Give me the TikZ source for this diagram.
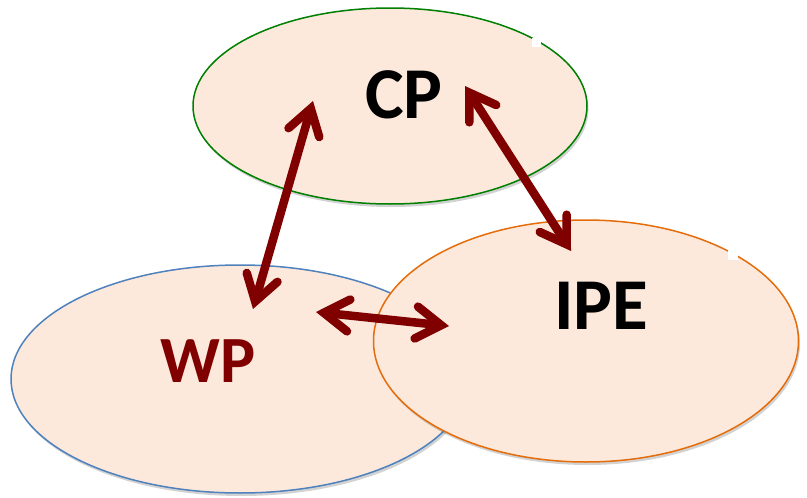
\documentclass[tikz,border=0pt]{standalone}
\usepackage{fontspec}
\newfontfamily\lblfont{Carlito}
\usetikzlibrary{shapes.geometric,arrows.meta,shadows}
\definecolor{peach}{RGB}{252,233,220}
\definecolor{cpline}{RGB}{0,128,0}
\definecolor{wpline}{RGB}{79,129,189}
\definecolor{ipeline}{RGB}{228,108,10}
\definecolor{maroon}{RGB}{128,0,0}
\tikzset{
  blob/.style={ellipse, fill=peach, line width=1.5pt, inner sep=0pt,
    drop shadow={shadow xshift=1.5pt, shadow yshift=-3pt, opacity=0.25, fill=black!70}},
  tag/.style={font=\lblfont\bfseries\fontsize{73}{73}\selectfont, inner sep=0pt},
  link/.style={draw=maroon, line width=8.5pt, line cap=round,
    {Straight Barb[length=25pt, width=32pt, line cap=round]}-{Straight Barb[length=25pt, width=32pt, line cap=round]},
    preaction={draw=black, opacity=0.18, transform canvas={shift={(1.5pt,-2pt)}}}},
  gap/.style={fill=white, draw=none}
}
\begin{document}
\begin{tikzpicture}[x=1pt, y=-1pt]
  \useasboundingbox (0,0) rectangle (807,498);
  % the three domains
  \node[blob, draw=cpline, minimum width=394pt, minimum height=196pt] (cp) at (390,106) {};
  \node[blob, draw=wpline, minimum width=458pt, minimum height=228pt] (wp) at (240,379) {};
  \node[blob, draw=ipeline, minimum width=425pt, minimum height=242pt] (ipe) at (586,341) {};
  % small breaks in the outlines
  \fill[white] (532,38) rectangle (541,47);
  \fill[white] (728,250) rectangle (738,260);
  % labels
  \node[tag] (cplbl) at (404,95) {CP};
  \node[tag] (ipelbl) at (601,306) {IPE};
  \node[tag, text=maroon, font=\lblfont\bfseries\fontsize{66}{66}\selectfont] (wplbl) at (208,361) {WP};
  % arrow end points
  \coordinate (cpW) at (313,101);
  \coordinate (wpN) at (253,309);
  \coordinate (cpE) at (465,86);
  \coordinate (ipeN) at (571,251);
  \coordinate (wpE) at (316,312);
  \coordinate (ipeW) at (449,326);
  % relations
  \draw[link] (wpN) -- (cpW);
  \draw[link] (cpE) -- (ipeN);
  \draw[link] (wpE) -- (ipeW);
\end{tikzpicture}
\end{document}
